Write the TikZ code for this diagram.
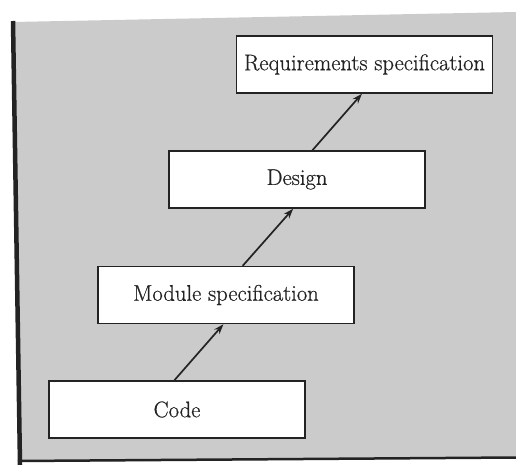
\documentclass[tikz,border=0pt]{standalone}
\usepackage{fontspec}
\usetikzlibrary{arrows.meta,calc}
\newfontfamily\stagefont[FakeBold=0.6]{Latin Modern Roman}
\definecolor{panelgray}{RGB}{203,203,203}
\definecolor{inkdark}{RGB}{35,35,35}
\tikzset{
  stage/.style={draw=inkdark, line width=1.5pt, fill=white, minimum width=256pt,
    minimum height=57pt, inner sep=0pt, text=inkdark,
    font=\stagefont\fontsize{22.6}{26}\selectfont},
  flow/.style={draw=inkdark, line width=1.7pt, -{Stealth[length=10pt,width=7pt]}}
}
\begin{document}
\begin{tikzpicture}[x=1pt,y=-1pt]
  \useasboundingbox (0,0) rectangle (516,465);
  % shaded panel with its dark left and bottom edges
  \fill[panelgray] (13,22) -- (516,12) -- (516,458) -- (20,462) -- cycle;
  \draw[inkdark, line width=4.5pt] (13,21) -- (20,465);
  \draw[inkdark, line width=2.5pt] (18,461) -- (516,457.5);

  % the four stages
  \node[stage] (req) at (364.5,64.5) {Requirements specification};
  \node[stage] (des) at (297,179.5) {Design};
  \node[stage] (mod) at (226,295) {Module specification};
  \node[stage] (code) at (177,409.5) {Code};

  % each stage leads up to the next one
  \draw[flow] ($(code.north west)!0.49!(code.north east)$) -- ($(mod.south west)!0.49!(mod.south east)$);
  \draw[flow] ($(mod.north west)!0.565!(mod.north east)$) -- ($(des.south west)!0.485!(des.south east)$);
  \draw[flow] ($(des.north west)!0.56!(des.north east)$) -- ($(req.south west)!0.49!(req.south east)$);
\end{tikzpicture}
\end{document}
